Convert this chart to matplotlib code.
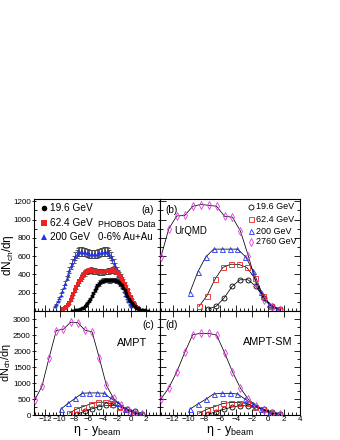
import numpy as np
import matplotlib
matplotlib.use("Agg")
import matplotlib.pyplot as plt
from matplotlib.ticker import MultipleLocator

plt.rcParams['font.family'] = ['Liberation Sans', 'DejaVu Sans']
plt.rcParams['mathtext.fontset'] = 'custom'
plt.rcParams['mathtext.rm'] = 'Liberation Sans'
plt.rcParams['mathtext.it'] = 'Liberation Sans:italic'

# beam rapidities
ybeam_19 = 3.04
ybeam_62 = 4.20
ybeam_200 = 5.36
ybeam_2760 = 7.99

# ---- PHOBOS 0-6% Au+Au data (panel a) ----
eta_phobos = [-5.3, -5.1, -4.9, -4.7, -4.5, -4.3, -4.1, -3.9, -3.7, -3.5, -3.3, -3.1, -2.9, -2.7,
              -2.5, -2.3, -2.1, -1.9, -1.7, -1.5, -1.3, -1.1, -0.9, -0.7, -0.5, -0.3, -0.1,
              0.1, 0.3, 0.5, 0.7, 0.9, 1.1, 1.3, 1.5, 1.7, 1.9, 2.1, 2.3, 2.5, 2.7,
              2.9, 3.1, 3.3, 3.5, 3.7, 3.9, 4.1, 4.3, 4.5, 4.7, 4.9, 5.1, 5.3]
phobos_19 = [3, 4, 6, 8, 11, 15, 21, 28, 38, 50, 65, 85, 108, 135,
             165, 197, 228, 256, 280, 300, 315, 326, 333, 337, 338, 337, 335,
             335, 337, 338, 337, 333, 326, 315, 300, 280, 256, 228, 197, 165, 135,
             108, 85, 65, 50, 38, 28, 21, 15, 11, 8, 6, 4, 3]
phobos_62 = [22, 33, 47, 65, 88, 118, 150, 188, 225, 262, 298, 328, 352, 376,
             398, 416, 430, 440, 444, 445, 443, 440, 437, 433, 430, 427, 425,
             425, 427, 430, 433, 437, 440, 443, 445, 444, 440, 430, 416, 398, 376,
             352, 328, 298, 262, 225, 188, 150, 118, 88, 65, 47, 33, 22]
phobos_200 = [50, 75, 105, 140, 180, 220, 265, 310, 360, 405, 450, 490, 530, 565,
              600, 625, 642, 650, 652, 650, 647, 642, 637, 632, 627, 623, 620,
              620, 623, 627, 632, 637, 642, 647, 650, 652, 650, 642, 625, 600, 565,
              530, 490, 450, 405, 360, 310, 265, 220, 180, 140, 105, 75, 50]
phobos_sys_frac = 0.07

# ---- model eta bins ----
eta_m19 = [-4.5, -3.5, -2.5, -1.5, -0.5, 0.5, 1.5, 2.5, 3.5, 4.5]
eta_m62 = [-4.5, -3.5, -2.5, -1.5, -0.5, 0.5, 1.5, 2.5, 3.5, 4.5, 5.5]
eta_m200 = [-4.5, -3.5, -2.5, -1.5, -0.5, 0.5, 1.5, 2.5, 3.5, 4.5, 5.5, 6.5]
eta_m2760 = [-5.5, -4.5, -3.5, -2.5, -1.5, -0.5, 0.5, 1.5, 2.5, 3.5, 4.5, 5.5, 6.5, 7.5, 8.5, 9.5]

# UrQMD (panel b)
urqmd_19 = [23, 51, 142, 269, 342, 342, 269, 142, 51, 23]
urqmd_62 = [50, 168, 345, 477, 512, 510, 477, 360, 168, 58, 15]
urqmd_200 = [200, 425, 590, 677, 677, 677, 677, 595, 435, 210, 80, 25]
urqmd_2760 = [591, 900, 1040, 1045, 1146, 1165, 1157, 1146, 1037, 1026, 874, 602, 290, 120, 45, 15]

# AMPT (panel c)
ampt_19 = [35, 110, 190, 260, 300, 300, 260, 190, 110, 35]
ampt_62 = [55, 180, 265, 345, 400, 400, 345, 265, 180, 60, 15]
ampt_200 = [180, 360, 520, 680, 690, 690, 680, 520, 370, 200, 80, 20]
ampt_2760 = [470, 900, 1790, 2640, 2680, 2900, 2890, 2650, 2600, 1790, 930, 520, 310, 150, 70, 20]

# AMPT-SM (panel d)
amptsm_19 = [30, 100, 180, 250, 290, 290, 250, 180, 100, 30]
amptsm_62 = [55, 180, 265, 360, 390, 390, 360, 265, 180, 60, 15]
amptsm_200 = [180, 340, 490, 656, 677, 677, 656, 490, 335, 180, 70, 20]
amptsm_2760 = [500, 850, 1350, 1955, 2510, 2550, 2550, 2500, 1950, 1350, 840, 490, 290, 150, 60, 20]

labels = ["19.6 GeV", "62.4 GeV", "200 GeV", "2760 GeV"]

col_red = '#ee2222'
col_blue = '#2233ee'
col_mag = '#e03ce0'

fig = plt.figure(figsize=(3.4, 4.4), dpi=100)
W, H = 340., 440.
def box(x0, x1, y0, y1):
    return [x0 / W, 1 - y1 / H, (x1 - x0) / W, (y1 - y0) / H]

ax_a = fig.add_axes(box(34, 160, 199.5, 311))
ax_b = fig.add_axes(box(160, 300, 199.5, 311))
ax_c = fig.add_axes(box(34, 160, 311, 415))
ax_d = fig.add_axes(box(160, 300, 311, 415))

tfs = 5.8
for ax in (ax_a, ax_b, ax_c, ax_d):
    ax.set_xlim(-13.6, 4.0)
    ax.xaxis.set_major_locator(MultipleLocator(2))
    ax.xaxis.set_minor_locator(MultipleLocator(0.5))
    ax.tick_params(which='both', direction='in', top=False, right=True,
                   labelsize=tfs, pad=1.0, width=0.6)
    ax.tick_params(which='major', length=4)
    ax.tick_params(which='minor', length=2)
    for s in ax.spines.values():
        s.set_linewidth(0.8)

for ax in (ax_a, ax_b):
    ax.set_ylim(0, 1220)
    ax.yaxis.set_major_locator(MultipleLocator(200))
    ax.yaxis.set_minor_locator(MultipleLocator(100))
    ax.tick_params(labelbottom=False)
for ax in (ax_c, ax_d):
    ax.set_ylim(0, 3250)
    ax.yaxis.set_major_locator(MultipleLocator(500))
    ax.yaxis.set_minor_locator(MultipleLocator(250))
    ax.tick_params(top=True)
for ax in (ax_a, ax_c):
    ax.tick_params(axis='y', which='major', direction='inout', length=3.5, pad=0.6)
for ax in (ax_b, ax_d):
    ax.tick_params(labelleft=False)
ax_a.set_yticks([200, 400, 600, 800, 1000, 1200])
ax_c.set_xticks([-12, -10, -8, -6, -4, -2, 0, 2])

# ---- panel (a): PHOBOS ----
eta_arr = np.array(eta_phobos)
for vals, yb, mk, c in ((phobos_200, ybeam_200, '^', col_blue),
                        (phobos_62, ybeam_62, 's', col_red),
                        (phobos_19, ybeam_19, 'o', 'black')):
    v = np.array(vals, dtype=float)
    ax_a.errorbar(eta_arr - yb, v, yerr=phobos_sys_frac * v, fmt='none',
                  ecolor='#444444', elinewidth=0.6, capsize=1.2, capthick=0.6, zorder=2)
    ax_a.plot(eta_arr - yb, v, mk, color=c, ms=2.7, mew=0, ls='none', zorder=3)

leg_a = [('o', 'black', "19.6 GeV", 0.924), ('s', col_red, "62.4 GeV", 0.789),
         ('^', col_blue, "200 GeV", 0.664)]
for mk, c, lab, yy in leg_a:
    ax_a.plot([0.079], [yy], mk, color=c, ms=4.0, mew=0, transform=ax_a.transAxes)
    ax_a.text(0.13, yy, lab, transform=ax_a.transAxes, fontsize=7.3, va='center', ha='left')
ax_a.text(0.505, 0.78, "PHOBOS Data", transform=ax_a.transAxes, fontsize=6.2, va='center')
ax_a.text(0.505, 0.664, "0-6% Au+Au", transform=ax_a.transAxes, fontsize=7.0, va='center')
ax_a.text(0.95, 0.905, "(a)", transform=ax_a.transAxes, fontsize=7.3, va='center', ha='right')

# ---- model panels ----
def draw_model(ax, v19, v62, v200, v2760):
    series = [(eta_m19, v19, ybeam_19, 'o', 'black'),
              (eta_m62, v62, ybeam_62, 's', col_red),
              (eta_m200, v200, ybeam_200, '^', col_blue),
              (eta_m2760, v2760, ybeam_2760, 'd', col_mag)]
    for eta, vals, yb, mk, c in series:
        x = np.array(eta) - yb
        ax.plot(x, vals, '-', color='black', lw=0.55, zorder=2)
        ax.plot(x, vals, mk, mfc='none', mec=c, ms=3.6, mew=0.6, ls='none', zorder=3)

draw_model(ax_b, urqmd_19, urqmd_62, urqmd_200, urqmd_2760)
draw_model(ax_c, ampt_19, ampt_62, ampt_200, ampt_2760)
draw_model(ax_d, amptsm_19, amptsm_62, amptsm_200, amptsm_2760)

leg_b = [('o', 'black', 0.933), ('s', col_red, 0.825), ('^', col_blue, 0.717), ('d', col_mag, 0.619)]
for (mk, c, yy), lab in zip(leg_b, labels):
    ax_b.plot([0.65], [yy], mk, mfc='none', mec=c, ms=3.6, mew=0.6, transform=ax_b.transAxes)
    ax_b.text(0.685, yy, lab, transform=ax_b.transAxes, fontsize=6.5, va='center', ha='left')
ax_b.text(0.035, 0.905, "(b)", transform=ax_b.transAxes, fontsize=7.3, va='center', ha='left')
ax_b.text(0.105, 0.717, "UrQMD", transform=ax_b.transAxes, fontsize=7.0, va='center', ha='left')

ax_c.text(0.95, 0.865, "(c)", transform=ax_c.transAxes, fontsize=7.3, va='center', ha='right')
ax_c.text(0.9, 0.692, "AMPT", transform=ax_c.transAxes, fontsize=7.8, va='center', ha='right')
ax_d.text(0.035, 0.865, "(d)", transform=ax_d.transAxes, fontsize=7.3, va='center', ha='left')
ax_d.text(0.945, 0.70, "AMPT-SM", transform=ax_d.transAxes, fontsize=7.8, va='center', ha='right')

# axis titles
ax_a.set_ylabel(r"dN$_{\rm ch}$/dη", fontsize=8.5)
ax_a.yaxis.set_label_coords(-0.145, 0.5)
ax_c.set_ylabel(r"dN$_{\rm ch}$/dη", fontsize=7.8)
ax_c.yaxis.set_label_coords(-0.163, 0.5)
for ax in (ax_c, ax_d):
    ax.set_xlabel(r"η - y$_{\rm beam}$", fontsize=9, labelpad=0.5)

fig.savefig("out.png", dpi=100)
